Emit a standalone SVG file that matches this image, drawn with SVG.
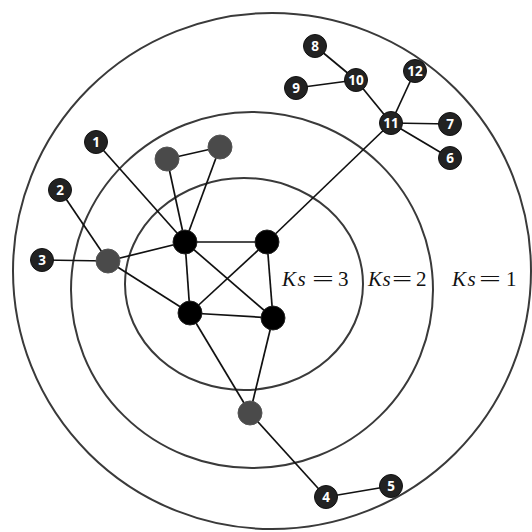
<svg xmlns="http://www.w3.org/2000/svg" width="532" height="532" viewBox="0 0 532 532">
<style>
.ring{fill:none;stroke:#3a3a3a;stroke-width:2}
.e{stroke:#111;stroke-width:1.7;fill:none}
.core{fill:#000;stroke:#222;stroke-width:1}
.mid{fill:#4a4a4a;stroke:#555;stroke-width:1}
.num{fill:#222;stroke:#111;stroke-width:1}
.lbl{fill:#fff;font-family:"Open Sans","DejaVu Sans",sans-serif;font-weight:bold;font-size:13.5px;text-anchor:middle;dominant-baseline:central}
.ks{font-family:"Liberation Serif",serif;font-size:21px;fill:#111}
.it{font-style:italic;letter-spacing:1.5px}
</style>
<rect width="532" height="532" fill="#fff"/>
<g id="rings">
<ellipse class="ring" cx="272" cy="271" rx="259" ry="258"/>
<ellipse class="ring" cx="252" cy="290" rx="181" ry="178"/>
<ellipse class="ring" cx="244" cy="284" rx="119" ry="106"/>
</g>
<g id="connectors">
<line class="e" x1="96" y1="142" x2="185" y2="242"/>
<line class="e" x1="60" y1="190" x2="108" y2="261"/>
<line class="e" x1="42" y1="260" x2="108" y2="261"/>
<line class="e" x1="108" y1="261" x2="185" y2="242"/>
<line class="e" x1="108" y1="261" x2="190" y2="313"/>
<line class="e" x1="167" y1="159" x2="220" y2="147"/>
<line class="e" x1="167" y1="159" x2="185" y2="242"/>
<line class="e" x1="220" y1="147" x2="185" y2="242"/>
<line class="e" x1="185" y1="242" x2="267" y2="242"/>
<line class="e" x1="185" y1="242" x2="190" y2="313"/>
<line class="e" x1="185" y1="242" x2="273" y2="318"/>
<line class="e" x1="267" y1="242" x2="190" y2="313"/>
<line class="e" x1="267" y1="242" x2="273" y2="318"/>
<line class="e" x1="190" y1="313" x2="273" y2="318"/>
<line class="e" x1="267" y1="242" x2="391" y2="123"/>
<line class="e" x1="190" y1="313" x2="250" y2="413"/>
<line class="e" x1="273" y1="318" x2="250" y2="413"/>
<line class="e" x1="250" y1="413" x2="326" y2="497"/>
<line class="e" x1="326" y1="497" x2="391" y2="486"/>
<line class="e" x1="391" y1="123" x2="356" y2="80"/>
<line class="e" x1="356" y1="80" x2="315" y2="46"/>
<line class="e" x1="356" y1="80" x2="296" y2="88"/>
<line class="e" x1="391" y1="123" x2="415" y2="71"/>
<line class="e" x1="391" y1="123" x2="450" y2="124"/>
<line class="e" x1="391" y1="123" x2="450" y2="158"/>
</g>
<g id="nA"><circle class="core" cx="185" cy="242" r="12"/></g>
<g id="nB"><circle class="core" cx="267" cy="242" r="12"/></g>
<g id="nC"><circle class="core" cx="190" cy="313" r="12"/></g>
<g id="nD"><circle class="core" cx="273" cy="318" r="12"/></g>
<g id="nG1"><circle class="mid" cx="167" cy="159" r="12"/></g>
<g id="nG2"><circle class="mid" cx="220" cy="147" r="12"/></g>
<g id="nG3"><circle class="mid" cx="108" cy="261" r="12"/></g>
<g id="nG4"><circle class="mid" cx="250" cy="413" r="12"/></g>
<g id="n1"><circle class="num" cx="96" cy="142" r="11.5"/><text class="lbl" x="96" y="142">1</text></g>
<g id="n2"><circle class="num" cx="60" cy="190" r="11.5"/><text class="lbl" x="60" y="190">2</text></g>
<g id="n3"><circle class="num" cx="42" cy="260" r="11.5"/><text class="lbl" x="42" y="260">3</text></g>
<g id="n4"><circle class="num" cx="326" cy="497" r="11.5"/><text class="lbl" x="326" y="497">4</text></g>
<g id="n5"><circle class="num" cx="391" cy="486" r="11.5"/><text class="lbl" x="391" y="486">5</text></g>
<g id="n6"><circle class="num" cx="450" cy="158" r="11.5"/><text class="lbl" x="450" y="158">6</text></g>
<g id="n7"><circle class="num" cx="450" cy="124" r="11.5"/><text class="lbl" x="450" y="124">7</text></g>
<g id="n8"><circle class="num" cx="315" cy="46" r="11.5"/><text class="lbl" x="315" y="46">8</text></g>
<g id="n9"><circle class="num" cx="296" cy="88" r="11.5"/><text class="lbl" x="296" y="88">9</text></g>
<g id="n10"><circle class="num" cx="356" cy="80" r="11.5"/><text class="lbl" x="356" y="80">10</text></g>
<g id="n11"><circle class="num" cx="391" cy="123" r="11.5"/><text class="lbl" x="391" y="123">11</text></g>
<g id="n12"><circle class="num" cx="415" cy="71" r="11.5"/><text class="lbl" x="415" y="71">12</text></g>
<g id="labels">
<text class="ks it" x="282" y="286">Ks</text>
<text class="ks" transform="translate(312,286) scale(1.85,1)">=</text>
<text class="ks" x="338" y="286">3</text>
<text class="ks it" x="368" y="286" style="letter-spacing:0.5px">Ks</text>
<text class="ks" transform="translate(392,286) scale(1.7,1)">=</text>
<text class="ks" x="416" y="286">2</text>
<text class="ks it" x="452" y="286">Ks</text>
<text class="ks" transform="translate(479,286) scale(1.85,1)">=</text>
<text class="ks" x="506" y="286">1</text>
</g>
</svg>
